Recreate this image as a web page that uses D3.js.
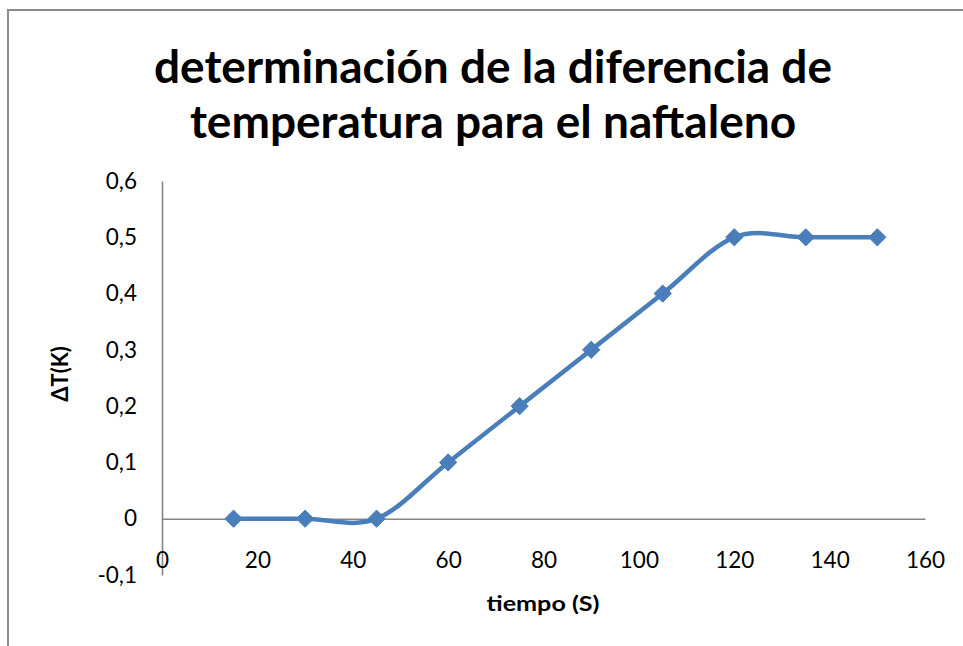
<!DOCTYPE html>
<html><head><meta charset="utf-8">
<script src="https://cdn.jsdelivr.net/npm/d3@7"></script>
<style>html,body{margin:0;padding:0;background:#fff;}svg{display:block;}</style>
</head><body>
<svg id="c" width="963" height="646"></svg>
<script>
const timeS = [15,30,45,60,75,90,105,120,135,150];
const deltaT = [0,0,0,0.1,0.2,0.3,0.4,0.5,0.5,0.5];
const xTicks = [0,20,40,60,80,100,120,140,160];
const xTickLabels = ["0","20","40","60","80","100","120","140","160"];
const yTicks = [-0.1,0,0.1,0.2,0.3,0.4,0.5,0.6];
const yTickLabels = ["-0,1","0","0,1","0,2","0,3","0,4","0,5","0,6"];
const titleLines = ["determinación de la diferencia de","temperatura para el naftaleno"];
const xTitle = "tiempo (S)";
const yTitle = "ΔT(K)";

const svg = d3.select("#c");
const FONT = "Lato, 'Open Sans', sans-serif";
const blue = "#4a7ebb", axisCol = "#868686";

// chart border (top and left visible)
svg.append("path").attr("d","M8,646V10H963").attr("fill","none").attr("stroke","#8c8c8c").attr("stroke-width",2);

const x = d3.scaleLinear().domain([0,160]).range([162,925]);
const y = d3.scaleLinear().domain([-0.1,0.6]).range([575,181]);

function fit(sel, w){
  const n = sel.node(); const len = n.getComputedTextLength();
  if (Math.abs(len-w)/w > 0.02) sel.attr("textLength", w).attr("lengthAdjust","spacingAndGlyphs");
}

// title
const tw = [666, 598], tb = [83, 138];
titleLines.forEach((t,i)=>{
  const s = svg.append("text").attr("x",493).attr("y",tb[i]).attr("text-anchor","middle")
    .attr("font-family",FONT).attr("font-weight","bold").attr("font-size",46).attr("fill","#000").text(t);
  fit(s, tw[i]);
});

// y axis
const ya = svg.append("g").attr("transform",`translate(${x(0)},0)`)
  .call(d3.axisLeft(y).tickValues(yTicks).tickFormat((d,i)=>yTickLabels[i]).tickSize(0).tickPadding(25));
ya.select(".domain").attr("stroke",axisCol).attr("stroke-width",1.6);
ya.selectAll("text").attr("font-family",FONT).attr("font-size",22.5).attr("fill","#000");

// x axis
const xa = svg.append("g").attr("transform",`translate(0,${y(0)})`)
  .call(d3.axisBottom(x).tickValues(xTicks).tickFormat((d,i)=>xTickLabels[i]).tickSize(0).tickPadding(33));
xa.select(".domain").attr("stroke",axisCol).attr("stroke-width",1.6);
xa.selectAll("text").attr("font-family",FONT).attr("font-size",22.5).attr("fill","#000");

// axis titles
const xt = svg.append("text").attr("x",543).attr("y",611).attr("text-anchor","middle")
  .attr("font-family",FONT).attr("font-weight","bold").attr("font-size",21).text(xTitle);
fit(xt, 113);
const yt = svg.append("text").attr("transform","translate(68,374) rotate(-90)").attr("text-anchor","middle")
  .attr("font-family",FONT).attr("font-weight","bold").attr("font-size",22).text(yTitle);

// line
const data = timeS.map((t,i)=>({t, v:deltaT[i]}));
svg.append("path").datum(data)
  .attr("d", d3.line().x(d=>x(d.t)).y(d=>y(d.v)).curve(d3.curveCardinal.tension(0)))
  .attr("fill","none").attr("stroke",blue).attr("stroke-width",4.5).attr("stroke-linejoin","round");

// markers
svg.selectAll("path.m").data(data).join("path").attr("class","m")
  .attr("d", d3.symbol().type(d3.symbolDiamond2).size(190))
  .attr("transform", d=>`translate(${x(d.t)},${y(d.v)})`)
  .attr("fill",blue).attr("stroke",blue).attr("stroke-width",1);
</script>
</body></html>
